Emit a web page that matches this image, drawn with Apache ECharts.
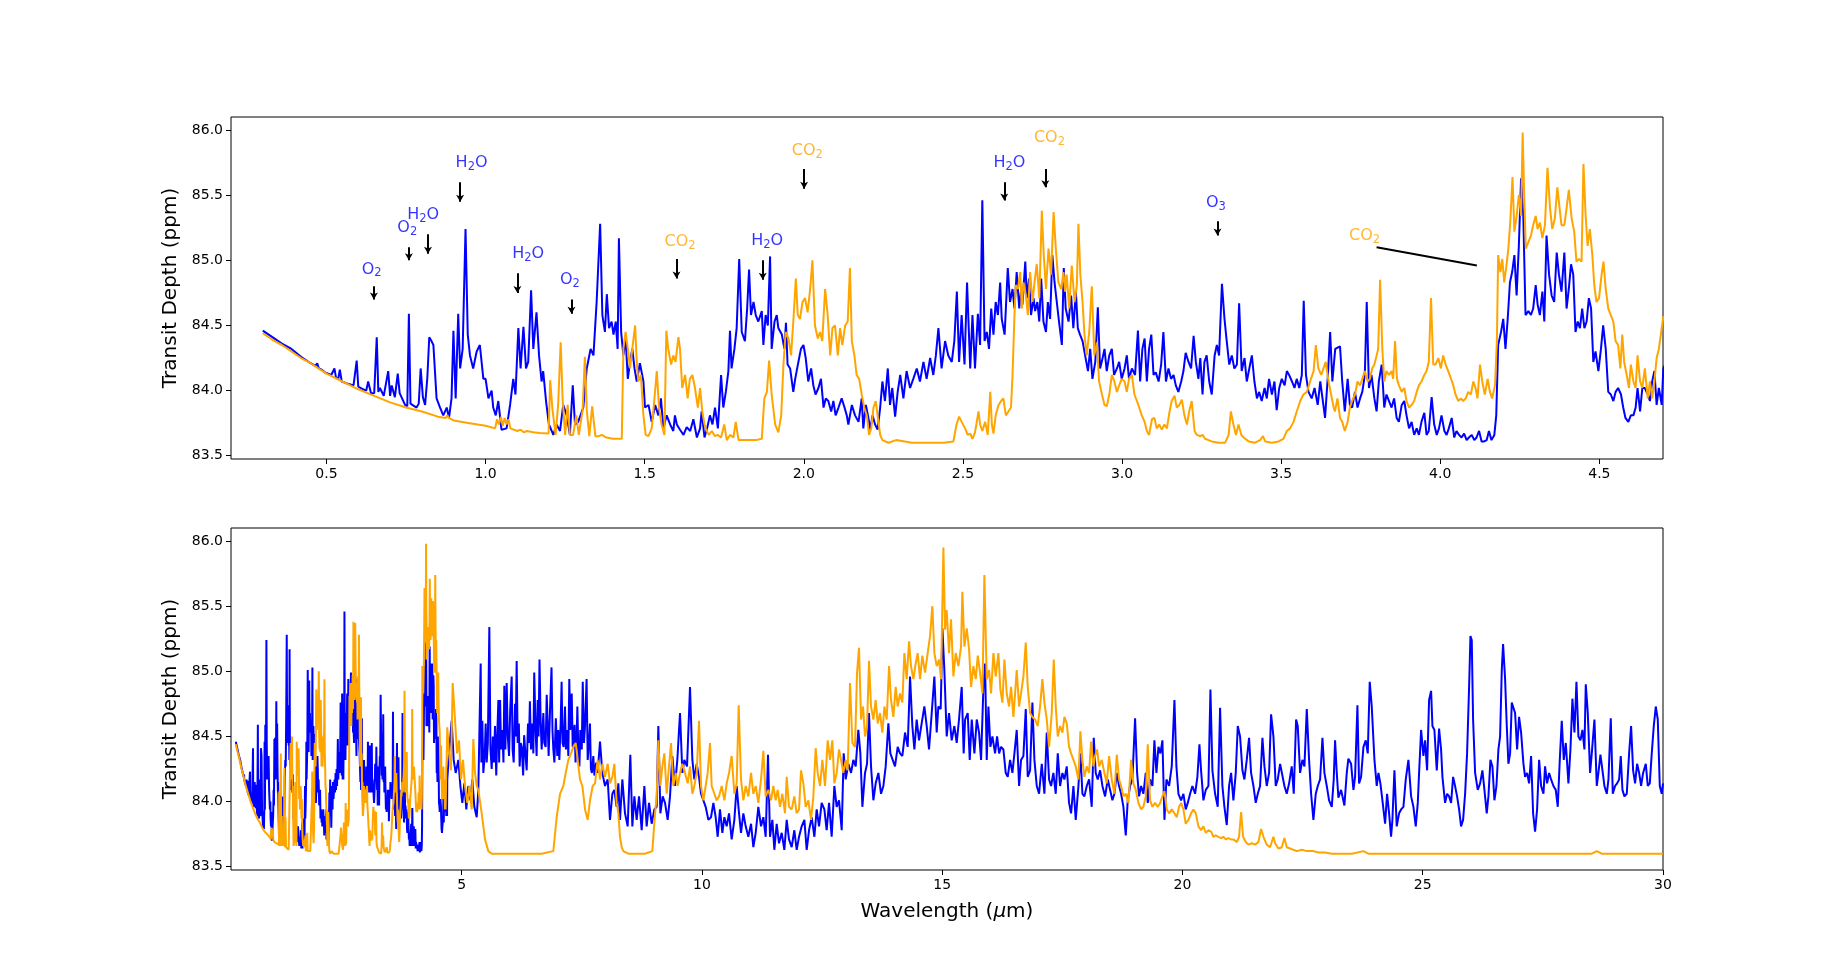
<!DOCTYPE html>
<html>
<head>
<meta charset="utf-8">
<title>Transit depth</title>
<script src="https://cdn.jsdelivr.net/npm/echarts@6.0.0/dist/echarts.min.js"></script>
<style>
html, body { margin: 0; padding: 0; background: #fff; }
#main { width: 1848px; height: 977px; }
</style>
</head>
<body>
<div id="main"></div>
<script>
// [wavelength (um), transit depth (ppm)]
var blueNearIr = [
[0.30,84.46],[0.33,84.41],[0.36,84.36],[0.39,84.32],[0.42,84.26],[0.45,84.21],[0.465,84.19],[0.471,84.21],[0.476,84.17],[0.485,84.16],[0.49,84.17],[0.495,84.14],[0.515,84.12],[0.525,84.17],[0.53,84.10],[0.537,84.09],[0.542,84.16],[0.548,84.07],[0.57,84.05],[0.585,84.04],[0.595,84.23],[0.60,84.03],[0.615,84.01],[0.625,84.00],[0.631,84.07],[0.64,83.98],[0.65,83.98],[0.658,84.41],[0.663,83.99],[0.668,84.02],[0.68,83.96],[0.694,84.15],[0.70,83.96],[0.705,84.04],[0.715,83.95],[0.724,84.13],[0.73,83.98],[0.736,83.99],[0.747,83.89],[0.754,83.88],[0.759,84.59],[0.764,83.90],[0.768,83.89],[0.783,83.87],[0.79,83.90],[0.796,84.17],[0.803,83.95],[0.81,83.89],[0.817,84.10],[0.823,84.41],[0.83,84.38],[0.836,84.35],[0.846,83.94],[0.857,83.87],[0.867,83.81],[0.878,83.87],[0.885,83.79],[0.893,83.94],[0.899,84.46],[0.906,83.94],[0.914,84.59],[0.92,84.17],[0.928,84.32],[0.937,85.24],[0.944,84.43],[0.951,84.27],[0.961,84.17],[0.972,84.30],[0.982,84.35],[0.993,84.09],[1.00,84.09],[1.009,83.94],[1.019,84.00],[1.024,83.87],[1.032,83.81],[1.04,83.92],[1.05,83.70],[1.066,83.71],[1.077,83.89],[1.087,84.09],[1.094,83.97],[1.103,84.48],[1.11,84.17],[1.119,84.49],[1.127,84.17],[1.134,84.22],[1.143,84.77],[1.15,84.32],[1.16,84.60],[1.168,84.27],[1.176,84.07],[1.181,84.15],[1.19,83.92],[1.199,83.74],[1.213,83.66],[1.223,83.74],[1.234,83.69],[1.244,83.89],[1.255,83.81],[1.265,83.66],[1.274,84.04],[1.281,83.74],[1.291,83.76],[1.307,83.87],[1.318,84.17],[1.33,84.32],[1.339,84.27],[1.349,84.68],[1.36,85.28],[1.367,84.58],[1.375,84.45],[1.381,84.74],[1.388,84.48],[1.396,84.53],[1.402,84.43],[1.409,84.53],[1.415,84.32],[1.419,85.17],[1.426,84.45],[1.433,84.27],[1.44,84.40],[1.447,84.09],[1.454,84.22],[1.461,84.32],[1.468,84.17],[1.475,84.07],[1.485,84.21],[1.496,84.07],[1.501,83.87],[1.512,83.89],[1.522,83.76],[1.533,83.89],[1.543,83.81],[1.551,83.94],[1.559,83.71],[1.569,83.81],[1.58,83.74],[1.59,83.69],[1.595,83.81],[1.601,83.74],[1.611,83.70],[1.622,83.66],[1.632,83.72],[1.643,83.69],[1.653,83.78],[1.664,83.64],[1.674,83.71],[1.679,83.84],[1.688,83.64],[1.697,83.72],[1.705,83.81],[1.713,83.74],[1.721,83.87],[1.73,83.71],[1.74,84.12],[1.747,83.87],[1.755,83.99],[1.763,84.15],[1.768,84.46],[1.773,84.17],[1.782,84.32],[1.789,84.48],[1.797,85.01],[1.805,84.45],[1.815,84.38],[1.822,84.63],[1.828,84.93],[1.834,84.58],[1.842,84.68],[1.849,84.58],[1.857,84.53],[1.868,84.61],[1.873,84.35],[1.88,84.58],[1.887,84.50],[1.894,85.03],[1.899,84.32],[1.908,84.53],[1.915,84.58],[1.92,84.48],[1.931,84.43],[1.939,84.32],[1.944,84.52],[1.949,84.20],[1.957,84.17],[1.967,83.99],[1.973,84.09],[1.983,84.22],[1.991,84.32],[1.999,84.35],[2.006,84.25],[2.014,84.07],[2.023,84.17],[2.03,84.04],[2.037,83.97],[2.046,84.02],[2.054,84.09],[2.062,83.87],[2.069,83.94],[2.077,83.92],[2.086,83.84],[2.093,83.92],[2.10,83.81],[2.109,83.87],[2.119,83.94],[2.128,83.87],[2.135,83.81],[2.14,83.74],[2.151,83.89],[2.161,83.81],[2.172,83.76],[2.182,83.94],[2.187,83.71],[2.195,83.89],[2.203,83.79],[2.209,83.70],[2.216,83.81],[2.224,83.74],[2.232,83.70],[2.24,83.87],[2.247,84.07],[2.255,83.92],[2.264,84.17],[2.271,83.89],[2.278,84.02],[2.287,83.80],[2.295,83.99],[2.303,84.12],[2.313,83.94],[2.323,84.15],[2.334,84.02],[2.344,84.09],[2.355,84.17],[2.365,84.07],[2.376,84.22],[2.386,84.09],[2.397,84.25],[2.407,84.12],[2.415,84.27],[2.423,84.48],[2.433,84.17],[2.444,84.38],[2.454,84.27],[2.465,84.22],[2.473,84.38],[2.481,84.76],[2.488,84.22],[2.496,84.58],[2.505,84.20],[2.513,84.83],[2.523,84.17],[2.53,84.58],[2.538,84.17],[2.547,84.59],[2.554,84.35],[2.561,85.46],[2.568,84.38],[2.575,84.45],[2.582,84.32],[2.589,84.63],[2.596,84.43],[2.603,84.68],[2.61,84.58],[2.617,84.83],[2.622,84.55],[2.631,84.43],[2.635,84.63],[2.641,84.94],[2.648,84.68],[2.656,84.78],[2.662,84.63],[2.669,84.91],[2.677,84.63],[2.683,84.78],[2.687,84.66],[2.696,84.99],[2.701,84.71],[2.708,84.86],[2.714,84.58],[2.722,84.71],[2.727,84.61],[2.734,84.68],[2.74,84.53],[2.746,84.86],[2.753,84.53],[2.761,84.45],[2.767,84.68],[2.774,84.55],[2.781,85.04],[2.788,84.83],[2.795,84.68],[2.802,84.53],[2.811,84.35],[2.817,84.94],[2.823,84.63],[2.832,84.53],[2.84,84.73],[2.847,84.48],[2.855,84.76],[2.861,84.48],[2.868,84.43],[2.876,84.38],[2.884,84.27],[2.893,84.15],[2.90,84.32],[2.907,84.09],[2.916,84.22],[2.924,84.64],[2.931,84.17],[2.939,84.25],[2.945,84.32],[2.952,84.15],[2.96,84.27],[2.968,84.32],[2.975,84.12],[2.984,84.17],[2.991,84.22],[2.999,84.09],[3.008,84.17],[3.015,84.27],[3.022,84.09],[3.031,84.17],[3.041,84.12],[3.05,84.46],[3.057,84.07],[3.064,84.32],[3.071,84.40],[3.078,84.07],[3.085,84.32],[3.092,84.43],[3.099,84.12],[3.106,84.14],[3.115,84.07],[3.123,84.20],[3.13,84.45],[3.138,84.07],[3.146,84.17],[3.154,84.09],[3.162,84.12],[3.169,84.04],[3.177,83.99],[3.186,84.07],[3.193,84.15],[3.20,84.29],[3.209,84.22],[3.217,84.17],[3.225,84.42],[3.232,84.22],[3.24,84.09],[3.246,84.25],[3.253,83.97],[3.259,84.22],[3.266,84.27],[3.274,84.07],[3.282,83.97],[3.291,84.27],[3.298,84.35],[3.305,84.27],[3.314,84.82],[3.322,84.55],[3.329,84.38],[3.337,84.20],[3.345,84.27],[3.353,84.17],[3.361,84.20],[3.368,84.67],[3.376,84.15],[3.385,84.25],[3.392,84.07],[3.40,84.17],[3.408,84.27],[3.416,84.07],[3.424,83.94],[3.431,83.99],[3.439,83.92],[3.448,84.02],[3.455,83.94],[3.462,84.09],[3.471,83.97],[3.479,84.07],[3.486,83.85],[3.494,84.02],[3.502,84.09],[3.511,84.04],[3.518,84.15],[3.525,84.12],[3.534,84.07],[3.542,84.02],[3.549,84.09],[3.557,84.02],[3.565,84.12],[3.571,84.69],[3.578,84.12],[3.586,83.99],[3.596,83.94],[3.605,84.02],[3.615,83.89],[3.623,84.07],[3.63,83.94],[3.638,83.79],[3.647,84.12],[3.654,84.45],[3.661,84.07],[3.67,84.32],[3.685,84.34],[3.692,84.07],[3.70,83.84],[3.709,84.09],[3.716,83.89],[3.723,83.87],[3.732,83.99],[3.74,83.87],[3.748,83.94],[3.755,83.99],[3.763,84.12],[3.769,84.68],[3.776,84.02],[3.784,84.12],[3.793,83.94],[3.80,83.84],[3.807,84.07],[3.816,84.20],[3.824,83.87],[3.831,83.97],[3.839,83.92],[3.847,83.87],[3.855,83.94],[3.863,83.79],[3.87,83.76],[3.879,83.89],[3.887,83.92],[3.894,83.81],[3.902,83.71],[3.91,83.76],[3.918,83.66],[3.926,83.71],[3.933,83.66],[3.941,83.76],[3.95,83.83],[3.957,83.66],[3.964,83.69],[3.973,83.95],[3.981,83.74],[3.989,83.66],[3.996,83.71],[4.004,83.81],[4.013,83.69],[4.02,83.66],[4.027,83.71],[4.036,83.79],[4.044,83.64],[4.051,83.69],[4.059,83.66],[4.067,83.64],[4.075,83.67],[4.083,83.62],[4.09,83.64],[4.099,83.66],[4.107,83.62],[4.114,83.64],[4.122,83.69],[4.13,83.61],[4.138,83.61],[4.146,83.62],[4.153,83.69],[4.161,83.62],[4.17,83.66],[4.176,83.81],[4.182,84.35],[4.191,84.45],[4.198,84.55],[4.205,84.32],[4.212,84.55],[4.219,84.83],[4.226,84.91],[4.233,85.04],[4.24,84.73],[4.247,85.11],[4.254,85.63],[4.261,85.34],[4.268,84.58],[4.277,84.61],[4.285,84.58],[4.292,84.63],[4.30,84.81],[4.306,84.66],[4.313,84.58],[4.321,84.76],[4.327,84.53],[4.334,85.19],[4.342,84.89],[4.35,84.73],[4.358,84.68],[4.366,85.06],[4.373,84.89],[4.381,84.76],[4.39,85.06],[4.397,84.63],[4.404,84.78],[4.411,84.97],[4.418,84.89],[4.425,84.45],[4.432,84.53],[4.439,84.48],[4.446,84.63],[4.453,84.48],[4.46,84.53],[4.467,84.71],[4.474,84.63],[4.481,84.22],[4.488,84.30],[4.497,84.15],[4.505,84.32],[4.512,84.50],[4.52,84.32],[4.528,83.99],[4.536,83.97],[4.544,83.92],[4.551,83.99],[4.559,84.02],[4.568,83.97],[4.575,83.87],[4.582,83.79],[4.591,83.76],[4.599,83.81],[4.607,83.81],[4.614,83.87],[4.62,84.02],[4.628,83.84],[4.635,84.02],[4.643,84.02],[4.652,83.97],[4.659,83.92],[4.666,84.07],[4.673,84.15],[4.68,83.89],[4.687,84.02],[4.696,83.89],[4.701,84.17]
];

var blueMidIr = [
[4.737,84.37],[4.792,84.62],[4.834,84.32],[4.876,84.22],[4.931,84.32],[4.973,84.12],[5.014,83.99],[5.056,84.14],[5.097,83.94],[5.139,84.12],[5.181,84.01],[5.222,84.17],[5.264,83.96],[5.313,83.88],[5.347,84.09],[5.37,84.55],[5.396,85.06],[5.41,84.30],[5.43,84.62],[5.451,84.22],[5.48,84.35],[5.50,84.60],[5.521,84.30],[5.545,84.45],[5.576,85.34],[5.60,84.40],[5.625,84.25],[5.65,84.50],[5.67,84.30],[5.694,84.58],[5.72,84.20],[5.74,84.50],[5.764,84.78],[5.78,84.30],[5.80,84.78],[5.82,84.40],[5.845,84.55],[5.87,84.30],[5.888,84.89],[5.91,84.40],[5.937,84.91],[5.96,84.50],[5.986,84.35],[6.01,84.70],[6.041,84.96],[6.06,84.40],[6.083,84.30],[6.11,84.75],[6.124,84.50],[6.145,85.08],[6.166,84.45],[6.19,84.60],[6.207,84.27],[6.23,84.45],[6.25,84.42],[6.28,84.20],[6.30,84.51],[6.33,84.35],[6.353,84.24],[6.38,84.60],[6.40,84.45],[6.42,84.77],[6.443,84.40],[6.47,84.60],[6.492,84.37],[6.51,84.99],[6.54,84.53],[6.56,84.35],[6.582,84.78],[6.60,84.50],[6.62,85.09],[6.645,84.60],[6.665,84.40],[6.70,84.68],[6.72,84.45],[6.748,84.42],[6.77,84.82],[6.79,84.60],[6.81,84.35],[6.839,84.70],[6.87,85.03],[6.89,84.55],[6.908,84.40],[6.93,84.30],[6.96,84.64],[6.99,84.35],[7.01,84.55],[7.033,84.32],[7.06,84.60],[7.08,84.92],[7.10,84.45],[7.123,84.42],[7.15,84.73],[7.17,84.40],[7.20,84.55],[7.22,84.35],[7.24,84.94],[7.26,84.55],[7.29,84.83],[7.311,84.42],[7.33,84.50],[7.35,84.59],[7.37,84.30],[7.39,84.45],[7.408,84.73],[7.43,84.35],[7.45,84.27],[7.47,84.55],[7.50,84.40],[7.52,84.92],[7.545,84.45],[7.567,84.58],[7.60,84.94],[7.623,84.32],[7.65,84.45],[7.67,84.60],[7.69,84.25],[7.71,84.22],[7.74,84.35],[7.762,84.20],[7.80,84.30],[7.83,84.22],[7.879,84.46],[7.928,84.22],[7.983,84.12],[8.039,84.17],[8.087,83.86],[8.136,84.06],[8.177,84.09],[8.226,83.96],[8.261,84.14],[8.295,83.86],[8.344,84.17],[8.399,83.91],[8.455,83.81],[8.51,84.36],[8.552,83.81],[8.594,84.04],[8.642,83.86],[8.691,84.04],[8.746,83.78],[8.802,84.12],[8.85,83.81],[8.899,83.99],[8.954,83.83],[9.01,83.94],[9.058,83.96],[9.093,84.58],[9.135,83.91],[9.183,84.04],[9.232,83.99],[9.287,83.86],[9.336,84.04],[9.384,84.35],[9.44,84.12],[9.488,84.32],[9.544,84.68],[9.593,84.22],[9.634,84.32],[9.69,84.27],[9.752,84.88],[9.801,84.32],[9.842,84.17],[9.891,84.29],[9.939,84.19],[9.981,84.06],[10.03,84.01],[10.078,83.96],[10.134,83.86],[10.189,83.88],[10.238,83.99],[10.286,83.88],[10.328,83.73],[10.376,83.94],[10.425,83.76],[10.467,83.88],[10.515,83.81],[10.564,83.91],[10.619,83.71],[10.675,83.86],[10.723,84.12],[10.772,83.91],[10.813,83.76],[10.862,83.91],[10.911,83.81],[10.966,83.73],[11.022,83.83],[11.07,83.65],[11.119,83.76],[11.174,83.96],[11.23,83.81],[11.278,83.88],[11.327,83.73],[11.375,84.36],[11.417,83.73],[11.466,83.86],[11.507,83.63],[11.556,83.83],[11.604,83.68],[11.66,83.76],[11.715,83.63],[11.764,83.86],[11.812,83.71],[11.868,83.65],[11.923,83.78],[11.972,83.63],[12.021,83.73],[12.076,83.81],[12.132,83.86],[12.18,83.63],[12.229,83.78],[12.284,83.88],[12.34,83.73],[12.388,83.94],[12.437,83.81],[12.492,83.99],[12.548,83.94],[12.596,83.78],[12.645,83.99],[12.70,83.73],[12.756,84.12],[12.804,83.96],[12.853,84.01],[12.909,83.78],[12.95,84.37],[12.992,84.17],[13.047,84.29],[13.103,84.22],[13.151,84.32],[13.20,84.27],[13.255,84.55],[13.297,84.37],[13.339,83.96],[13.394,84.22],[13.436,84.29],[13.477,84.68],[13.519,84.27],[13.568,84.01],[13.616,84.14],[13.672,84.22],[13.727,84.06],[13.776,84.12],[13.824,84.27],[13.88,84.60],[13.921,84.37],[13.97,84.32],[14.018,84.27],[14.074,84.42],[14.122,84.37],[14.171,84.35],[14.227,84.53],[14.282,84.42],[14.331,84.96],[14.379,84.58],[14.421,84.40],[14.469,84.63],[14.518,84.47],[14.573,84.60],[14.629,84.73],[14.678,84.58],[14.726,84.40],[14.782,84.68],[14.837,84.96],[14.886,84.53],[14.92,84.73],[14.969,84.71],[15.004,85.33],[15.045,85.01],[15.094,84.50],[15.142,84.68],[15.198,84.47],[15.253,84.58],[15.302,84.45],[15.35,84.63],[15.406,84.88],[15.447,84.37],[15.476,84.63],[15.531,84.68],[15.573,84.32],[15.615,84.63],[15.67,84.37],[15.719,84.63],[15.767,84.53],[15.809,84.32],[15.858,84.88],[15.892,85.06],[15.927,84.32],[15.962,84.73],[16.003,84.42],[16.045,84.50],[16.10,84.37],[16.142,84.50],[16.184,84.37],[16.225,84.42],[16.274,84.40],[16.322,84.22],[16.364,84.19],[16.413,84.32],[16.461,84.22],[16.503,84.37],[16.551,84.55],[16.60,84.12],[16.641,84.32],[16.69,84.35],[16.739,84.71],[16.78,84.19],[16.829,84.24],[16.877,84.76],[16.919,84.32],[16.968,84.12],[17.016,84.06],[17.072,84.29],[17.127,84.06],[17.176,84.53],[17.224,84.17],[17.266,84.12],[17.314,84.22],[17.363,84.06],[17.405,84.37],[17.453,84.12],[17.502,84.22],[17.543,84.17],[17.592,84.27],[17.64,83.99],[17.682,83.91],[17.731,84.12],[17.779,83.86],[17.835,84.12],[17.876,84.37],[17.918,84.06],[17.959,84.04],[18.008,84.12],[18.057,84.17],[18.112,83.96],[18.154,84.49],[18.195,84.22],[18.237,84.17],[18.286,84.24],[18.334,84.12],[18.39,84.04],[18.445,84.17],[18.494,84.09],[18.542,84.01],[18.584,84.06],[18.633,84.22],[18.681,84.12],[18.723,84.06],[18.771,83.96],[18.82,83.74],[18.861,84.01],[18.91,84.12],[18.958,84.17],[19.014,84.64],[19.056,84.22],[19.097,84.04],[19.139,84.12],[19.187,84.06],[19.236,84.22],[19.278,83.99],[19.326,84.17],[19.375,84.12],[19.416,84.47],[19.458,84.22],[19.50,84.42],[19.541,84.37],[19.583,84.47],[19.625,83.86],[19.666,84.17],[19.722,84.12],[19.777,84.27],[19.833,84.78],[19.874,84.27],[19.916,84.06],[19.971,84.01],[20.02,84.06],[20.068,83.94],[20.11,83.99],[20.159,84.06],[20.207,84.12],[20.263,84.06],[20.311,84.19],[20.353,84.44],[20.387,84.24],[20.436,84.01],[20.485,84.09],[20.54,84.12],[20.582,84.86],[20.623,84.24],[20.679,84.06],[20.734,83.96],[20.783,84.72],[20.831,84.12],[20.873,83.96],[20.922,83.82],[20.97,84.12],[21.012,84.22],[21.06,84.01],[21.109,84.22],[21.151,84.58],[21.199,84.50],[21.248,84.24],[21.289,84.17],[21.338,84.32],[21.386,84.49],[21.428,84.22],[21.477,84.12],[21.525,83.99],[21.567,84.06],[21.615,84.12],[21.664,84.49],[21.706,84.27],[21.754,84.12],[21.803,84.22],[21.844,84.67],[21.893,84.50],[21.941,84.12],[21.983,84.17],[22.032,84.29],[22.122,84.12],[22.17,84.06],[22.219,84.14],[22.274,84.27],[22.316,84.06],[22.365,84.63],[22.399,84.58],[22.448,84.22],[22.496,84.32],[22.538,84.27],[22.587,84.71],[22.635,84.32],[22.677,84.06],[22.725,83.86],[22.774,84.06],[22.816,84.12],[22.864,84.17],[22.913,84.49],[22.954,84.22],[23.003,84.12],[23.051,84.01],[23.107,83.96],[23.148,84.17],[23.176,84.47],[23.211,84.22],[23.245,84.03],[23.301,84.09],[23.329,84.10],[23.37,83.97],[23.419,84.22],[23.453,84.33],[23.509,84.29],[23.558,84.09],[23.592,84.19],[23.641,84.74],[23.675,84.14],[23.717,84.19],[23.766,84.42],[23.814,84.47],[23.856,84.37],[23.897,84.92],[23.939,84.73],[23.995,84.32],[24.043,84.12],[24.078,84.22],[24.119,84.14],[24.161,84.01],[24.217,83.83],[24.258,84.06],[24.30,83.91],[24.341,83.73],[24.369,83.86],[24.411,84.24],[24.459,83.81],[24.508,83.91],[24.55,83.94],[24.598,83.96],[24.647,84.17],[24.702,84.32],[24.758,84.04],[24.806,83.96],[24.855,83.81],[24.897,83.99],[24.924,84.22],[24.966,84.55],[25.014,84.35],[25.049,84.47],[25.091,84.24],[25.132,84.78],[25.174,84.85],[25.202,84.58],[25.243,84.55],[25.292,84.24],[25.34,84.56],[25.382,84.40],[25.41,84.19],[25.465,83.99],[25.507,84.06],[25.549,84.04],[25.59,83.99],[25.632,84.19],[25.673,84.12],[25.715,84.04],[25.757,83.94],[25.798,83.81],[25.84,83.86],[25.882,84.06],[25.923,84.37],[25.965,84.88],[25.993,85.27],[26.02,85.24],[26.048,84.63],[26.09,84.22],[26.145,84.09],[26.194,84.14],[26.242,84.24],[26.284,84.09],[26.332,83.91],[26.367,84.04],[26.409,84.32],[26.45,84.27],[26.492,84.01],[26.534,84.12],[26.575,84.40],[26.61,84.50],[26.645,85.01],[26.672,85.21],[26.714,84.94],[26.749,84.58],[26.783,84.29],[26.818,84.37],[26.853,84.76],[26.887,84.77],[26.922,84.68],[26.964,84.40],[27.005,84.65],[27.047,84.53],[27.096,84.29],[27.13,84.19],[27.172,84.22],[27.213,84.14],[27.255,84.35],[27.297,83.91],[27.338,83.77],[27.38,83.94],[27.422,84.32],[27.463,84.12],[27.512,84.06],[27.546,84.27],[27.588,84.14],[27.63,84.22],[27.671,84.17],[27.72,84.12],[27.768,84.09],[27.81,83.96],[27.852,84.32],[27.893,84.62],[27.935,84.32],[27.977,84.45],[28.032,84.14],[28.074,84.40],[28.115,84.79],[28.157,84.53],[28.199,84.92],[28.24,84.50],[28.282,84.47],[28.323,84.55],[28.365,84.40],[28.393,84.90],[28.435,84.68],[28.483,84.22],[28.518,84.37],[28.573,84.63],[28.622,84.12],[28.656,84.22],[28.698,84.36],[28.74,84.24],[28.781,84.12],[28.83,84.06],[28.865,84.17],[28.913,84.64],[28.955,84.06],[29.003,84.12],[29.045,84.14],[29.087,84.17],[29.121,84.35],[29.156,84.09],[29.197,84.04],[29.246,84.06],[29.295,84.37],[29.336,84.58],[29.378,84.24],[29.419,84.14],[29.461,84.29],[29.503,84.22],[29.544,84.12],[29.586,84.22],[29.642,84.29],[29.683,84.12],[29.725,84.14],[29.766,84.37],[29.808,84.58],[29.85,84.73],[29.891,84.63],[29.933,84.12],[29.974,84.06],[30.0,84.14]
];

var orangeNearIr = [
[0.30,84.44],[0.33,84.39],[0.36,84.35],[0.39,84.30],[0.42,84.25],[0.45,84.21],[0.50,84.13],[0.55,84.07],[0.60,84.01],[0.65,83.96],[0.70,83.91],[0.75,83.87],[0.80,83.84],[0.85,83.80],[0.875,83.79],[0.88,83.81],[0.885,83.79],[0.90,83.77],[0.95,83.75],[1.00,83.73],[1.03,83.71],[1.036,83.78],[1.042,83.74],[1.048,83.80],[1.054,83.73],[1.06,83.79],[1.066,83.74],[1.072,83.78],[1.078,83.71],[1.10,83.69],[1.11,83.70],[1.12,83.68],[1.13,83.69],[1.15,83.68],[1.17,83.675],[1.198,83.67],[1.203,84.08],[1.21,83.86],[1.22,83.66],[1.228,83.89],[1.236,84.37],[1.242,83.94],[1.25,83.66],[1.258,83.89],[1.265,83.66],[1.275,83.66],[1.285,83.81],[1.293,83.66],[1.305,83.85],[1.312,84.26],[1.318,83.85],[1.326,83.65],[1.335,83.88],[1.345,83.65],[1.356,83.65],[1.365,83.66],[1.38,83.64],[1.40,83.63],[1.428,83.63],[1.433,84.32],[1.44,84.45],[1.447,84.32],[1.454,84.17],[1.461,84.32],[1.47,84.50],[1.475,84.22],[1.48,84.07],[1.488,84.12],[1.496,83.81],[1.503,83.66],[1.512,83.65],[1.522,83.71],[1.53,83.92],[1.538,84.15],[1.545,83.87],[1.553,83.74],[1.562,83.66],[1.568,84.46],[1.574,84.32],[1.583,84.20],[1.59,84.27],[1.597,84.22],[1.606,84.41],[1.611,84.32],[1.618,84.02],[1.627,84.12],[1.635,83.94],[1.642,84.09],[1.65,84.12],[1.658,84.02],[1.667,83.87],[1.674,84.02],[1.681,83.84],[1.688,83.74],[1.695,83.69],[1.702,83.66],[1.711,83.69],[1.721,83.65],[1.729,83.66],[1.74,83.64],[1.75,83.74],[1.758,83.62],[1.768,83.66],[1.779,83.64],[1.786,83.76],[1.795,83.62],[1.82,83.62],[1.85,83.62],[1.868,83.63],[1.876,83.94],[1.884,83.99],[1.891,84.23],[1.899,83.97],[1.91,83.74],[1.92,83.68],[1.929,83.81],[1.936,84.20],[1.943,84.45],[1.952,84.40],[1.96,84.27],[1.967,84.53],[1.975,84.86],[1.981,84.58],[1.988,84.55],[1.996,84.68],[2.004,84.71],[2.012,84.60],[2.02,84.78],[2.027,85.00],[2.035,84.50],[2.044,84.40],[2.051,84.45],[2.058,84.38],[2.067,84.78],[2.075,84.58],[2.083,84.27],[2.09,84.48],[2.098,84.50],[2.107,84.27],[2.114,84.48],[2.121,84.35],[2.13,84.50],[2.138,84.53],[2.145,84.94],[2.151,84.38],[2.159,84.27],[2.166,84.12],[2.174,84.09],[2.182,83.97],[2.19,83.87],[2.198,83.81],[2.205,83.66],[2.212,83.71],[2.219,83.87],[2.226,83.92],[2.232,83.81],[2.24,83.66],[2.247,83.62],[2.266,83.60],[2.29,83.62],[2.34,83.60],[2.39,83.60],[2.44,83.60],[2.47,83.61],[2.48,83.74],[2.488,83.80],[2.496,83.76],[2.507,83.71],[2.515,83.66],[2.523,83.67],[2.53,83.63],[2.538,83.68],[2.549,83.84],[2.554,83.74],[2.561,83.69],[2.57,83.76],[2.578,83.66],[2.586,83.99],[2.591,83.74],[2.596,83.67],[2.603,83.81],[2.612,83.89],[2.62,83.92],[2.627,83.94],[2.635,83.81],[2.643,83.84],[2.651,83.87],[2.656,84.12],[2.662,84.58],[2.666,84.81],[2.673,84.78],[2.68,84.91],[2.685,84.63],[2.69,84.83],[2.698,84.73],[2.704,84.58],[2.711,84.91],[2.719,84.68],[2.725,84.83],[2.732,84.97],[2.74,84.71],[2.748,85.38],[2.754,85.04],[2.761,84.78],[2.769,85.09],[2.777,84.89],[2.785,85.37],[2.792,85.09],[2.80,84.83],[2.809,84.78],[2.816,84.91],[2.821,84.76],[2.826,84.89],[2.834,84.63],[2.842,84.96],[2.851,84.68],[2.858,84.81],[2.863,85.28],[2.869,84.89],[2.876,84.68],[2.882,84.43],[2.889,84.27],[2.897,84.45],[2.905,84.80],[2.913,84.27],[2.921,84.37],[2.928,84.07],[2.937,83.97],[2.945,83.89],[2.952,83.88],[2.96,83.97],[2.968,84.12],[2.976,84.07],[2.984,83.99],[2.991,84.04],[2.999,84.09],[3.008,84.07],[3.015,83.99],[3.022,84.09],[3.031,84.12],[3.039,83.97],[3.047,83.92],[3.054,83.87],[3.062,83.81],[3.071,83.76],[3.078,83.69],[3.085,83.66],[3.094,83.78],[3.102,83.79],[3.109,83.71],[3.117,83.74],[3.125,83.70],[3.133,83.74],[3.141,83.71],[3.148,83.82],[3.156,83.92],[3.165,83.96],[3.172,83.87],[3.18,83.89],[3.188,83.93],[3.196,83.81],[3.204,83.74],[3.211,83.84],[3.219,83.92],[3.228,83.69],[3.235,83.66],[3.246,83.65],[3.253,83.66],[3.261,83.63],[3.272,83.62],[3.282,83.61],[3.303,83.60],[3.324,83.60],[3.335,83.66],[3.342,83.84],[3.35,83.74],[3.358,83.66],[3.366,83.74],[3.375,83.66],[3.382,83.64],[3.398,83.61],[3.418,83.60],[3.434,83.62],[3.443,83.65],[3.45,83.61],[3.471,83.60],[3.492,83.61],[3.507,83.63],[3.518,83.69],[3.528,83.71],[3.539,83.76],[3.549,83.84],[3.56,83.92],[3.57,83.97],[3.581,83.99],[3.591,84.07],[3.602,84.15],[3.609,84.35],[3.617,84.17],[3.626,84.12],[3.633,84.17],[3.64,84.22],[3.649,84.07],[3.657,83.97],[3.665,83.87],[3.669,83.84],[3.677,83.94],[3.685,83.79],[3.692,83.76],[3.70,83.69],[3.709,83.76],[3.716,83.87],[3.723,83.92],[3.732,83.97],[3.74,84.07],[3.748,84.04],[3.755,84.09],[3.763,84.15],[3.772,84.07],[3.779,84.09],[3.786,84.17],[3.793,84.20],[3.80,84.27],[3.805,84.32],[3.811,84.85],[3.818,84.32],[3.824,84.07],[3.831,84.15],[3.839,84.12],[3.847,84.15],[3.852,84.09],[3.858,84.38],[3.864,84.09],[3.87,84.04],[3.879,83.99],[3.887,84.02],[3.894,83.92],[3.902,83.87],[3.91,83.89],[3.918,83.92],[3.926,83.99],[3.933,84.04],[3.941,84.07],[3.95,84.12],[3.957,84.15],[3.964,84.22],[3.971,84.71],[3.978,84.20],[3.985,84.20],[3.994,84.25],[4.002,84.17],[4.009,84.27],[4.017,84.20],[4.025,84.15],[4.034,84.09],[4.041,84.04],[4.048,83.97],[4.057,83.92],[4.065,83.94],[4.072,83.92],[4.08,83.94],[4.088,83.99],[4.096,83.97],[4.104,84.07],[4.111,84.02],[4.117,83.94],[4.125,84.20],[4.132,84.07],[4.14,83.97],[4.149,84.09],[4.156,83.99],[4.163,83.94],[4.172,84.04],[4.178,84.38],[4.182,85.04],[4.189,84.91],[4.195,85.01],[4.201,84.83],[4.207,84.94],[4.214,85.09],[4.22,85.29],[4.227,85.64],[4.233,85.22],[4.24,85.34],[4.247,85.50],[4.254,85.34],[4.259,85.98],[4.264,85.47],[4.269,85.09],[4.277,85.14],[4.285,85.19],[4.292,85.27],[4.30,85.34],[4.306,85.24],[4.313,85.29],[4.321,85.17],[4.329,85.27],[4.337,85.71],[4.345,85.40],[4.352,85.24],[4.36,85.32],[4.368,85.56],[4.375,85.40],[4.381,85.27],[4.39,85.27],[4.397,85.40],[4.404,85.54],[4.413,85.32],[4.421,85.22],[4.428,84.99],[4.436,85.01],[4.444,84.99],[4.45,85.74],[4.457,85.34],[4.463,85.11],[4.47,85.24],[4.478,85.04],[4.484,84.81],[4.491,84.68],[4.499,84.71],[4.507,84.89],[4.513,84.99],[4.52,84.78],[4.528,84.63],[4.536,84.58],[4.544,84.53],[4.551,84.38],[4.559,84.35],[4.566,84.17],[4.572,84.43],[4.578,84.22],[4.586,84.12],[4.593,84.02],[4.599,84.20],[4.607,84.07],[4.614,84.02],[4.62,84.27],[4.628,84.07],[4.635,84.02],[4.643,84.17],[4.652,83.94],[4.659,84.07],[4.666,83.94],[4.673,84.07],[4.68,84.25],[4.687,84.32],[4.696,84.48],[4.701,84.57]
];

var orangeMidIr = [
[4.737,84.37],[4.778,84.24],[4.813,84.91],[4.862,84.63],[4.903,84.37],[4.945,84.47],[4.987,84.17],[5.028,84.32],[5.07,84.12],[5.118,83.99],[5.16,84.12],[5.209,83.94],[5.243,84.48],[5.278,84.22],[5.313,84.12],[5.347,84.09],[5.417,83.91],[5.486,83.71],[5.555,83.62],[5.625,83.60],[5.972,83.60],[6.318,83.60],[6.665,83.60],[6.908,83.62],[6.977,83.88],[7.047,84.06],[7.116,84.12],[7.165,84.22],[7.22,84.32],[7.276,84.37],[7.324,84.42],[7.373,84.45],[7.415,84.32],[7.463,84.17],[7.512,84.12],[7.567,83.94],[7.623,83.86],[7.671,84.01],[7.727,84.12],[7.775,84.14],[7.83,84.32],[7.879,84.17],[7.928,84.29],[7.983,84.19],[8.039,84.29],[8.087,84.14],[8.136,84.19],[8.177,84.29],[8.226,83.99],[8.261,83.91],[8.295,83.73],[8.33,83.65],[8.365,83.62],[8.469,83.60],[8.816,83.60],[8.968,83.62],[9.024,83.91],[9.058,84.04],[9.093,84.47],[9.135,84.12],[9.176,84.27],[9.218,84.37],[9.267,84.06],[9.315,84.27],[9.357,84.45],[9.405,84.12],[9.454,84.22],[9.495,84.12],[9.544,84.22],[9.593,84.29],[9.648,84.22],[9.704,84.14],[9.752,84.27],[9.801,84.06],[9.842,84.12],[9.891,84.22],[9.939,84.62],[9.981,84.12],[10.03,84.01],[10.078,84.12],[10.12,84.22],[10.168,84.45],[10.203,84.12],[10.259,84.06],[10.307,84.01],[10.356,84.04],[10.411,84.12],[10.467,84.01],[10.515,84.14],[10.564,84.22],[10.619,84.35],[10.675,84.06],[10.723,84.14],[10.765,84.74],[10.813,84.17],[10.862,84.01],[10.911,84.12],[10.966,84.04],[11.022,84.22],[11.07,84.06],[11.119,84.12],[11.174,83.99],[11.23,84.17],[11.278,84.39],[11.327,84.04],[11.382,84.09],[11.438,84.01],[11.486,84.12],[11.535,84.01],[11.577,84.09],[11.625,83.96],[11.674,84.06],[11.729,83.91],[11.764,84.19],[11.812,83.96],[11.868,83.94],[11.923,84.04],[11.972,83.91],[12.021,83.94],[12.062,84.24],[12.111,84.14],[12.159,83.96],[12.215,84.01],[12.27,83.86],[12.319,84.04],[12.367,84.41],[12.409,84.22],[12.458,84.12],[12.506,84.32],[12.562,84.12],[12.617,84.47],[12.666,84.32],[12.714,84.47],[12.756,84.14],[12.804,84.22],[12.853,84.40],[12.895,84.32],[12.943,84.22],[12.992,84.32],[13.033,84.24],[13.082,84.91],[13.131,84.45],[13.186,84.42],[13.228,84.99],[13.269,85.18],[13.311,84.63],[13.353,84.73],[13.394,84.50],[13.436,84.58],[13.477,85.08],[13.519,84.73],[13.568,84.63],[13.616,84.78],[13.658,84.60],[13.706,84.68],[13.755,84.53],[13.797,84.73],[13.845,84.63],[13.894,85.04],[13.935,84.78],[13.984,84.65],[14.032,84.88],[14.074,84.73],[14.122,84.83],[14.171,84.76],[14.213,85.14],[14.261,84.94],[14.31,85.23],[14.351,85.04],[14.40,84.94],[14.448,85.06],[14.49,85.14],[14.539,84.94],[14.587,85.12],[14.643,84.99],[14.698,85.14],[14.747,85.27],[14.795,85.50],[14.837,85.14],[14.886,85.04],[14.934,85.09],[14.976,84.94],[15.025,85.95],[15.059,85.32],[15.094,85.47],[15.142,85.14],[15.184,85.40],[15.233,84.96],[15.281,85.14],[15.337,85.04],[15.392,85.19],[15.42,85.61],[15.462,85.19],[15.511,85.33],[15.559,85.17],[15.601,84.88],[15.649,85.04],[15.698,84.94],[15.74,85.12],[15.788,84.99],[15.837,84.83],[15.878,85.74],[15.927,84.94],[15.975,85.01],[16.017,84.83],[16.066,85.14],[16.114,84.96],[16.17,85.14],[16.211,84.86],[16.253,84.76],[16.295,85.09],[16.343,84.83],[16.392,84.73],[16.433,84.88],[16.482,84.65],[16.517,84.83],[16.551,85.01],[16.60,84.73],[16.641,84.83],[16.69,84.96],[16.739,85.22],[16.78,84.88],[16.829,84.68],[16.877,84.65],[16.933,84.63],[16.988,84.58],[17.037,84.73],[17.085,84.94],[17.127,84.76],[17.176,84.63],[17.224,84.42],[17.28,84.68],[17.321,85.09],[17.363,84.73],[17.405,84.50],[17.453,84.58],[17.502,84.53],[17.543,84.65],[17.592,84.60],[17.64,84.42],[17.682,84.37],[17.731,84.32],[17.779,84.27],[17.835,84.17],[17.876,84.54],[17.918,84.32],[17.959,84.19],[18.008,84.27],[18.057,84.22],[18.098,84.46],[18.147,84.27],[18.181,84.35],[18.223,84.40],[18.265,84.27],[18.32,84.32],[18.376,84.22],[18.424,84.14],[18.473,84.35],[18.528,84.17],[18.584,84.06],[18.633,84.36],[18.681,84.17],[18.723,84.12],[18.771,84.04],[18.82,84.06],[18.875,83.99],[18.931,84.32],[18.979,84.14],[19.028,84.09],[19.083,83.99],[19.139,83.94],[19.187,83.96],[19.236,84.04],[19.278,84.44],[19.326,84.01],[19.375,83.96],[19.43,83.99],[19.486,83.96],[19.534,83.99],[19.583,84.04],[19.625,84.08],[19.673,83.94],[19.722,83.91],[19.777,83.94],[19.833,83.91],[19.881,83.88],[19.93,83.96],[19.971,83.99],[20.02,83.94],[20.068,83.83],[20.124,83.86],[20.179,83.91],[20.228,83.94],[20.277,83.91],[20.332,83.81],[20.387,83.78],[20.436,83.81],[20.485,83.76],[20.54,83.78],[20.596,83.77],[20.644,83.73],[20.693,83.74],[20.748,83.73],[20.804,83.72],[20.852,83.73],[20.901,83.71],[20.956,83.72],[21.012,83.71],[21.06,83.71],[21.13,83.69],[21.178,83.73],[21.22,83.92],[21.262,83.73],[21.317,83.69],[21.372,83.67],[21.442,83.68],[21.511,83.67],[21.581,83.69],[21.636,83.79],[21.685,83.73],[21.754,83.67],[21.823,83.65],[21.893,83.73],[21.928,83.68],[21.997,83.64],[22.066,83.65],[22.122,83.72],[22.17,83.65],[22.24,83.64],[22.309,83.63],[22.379,83.62],[22.483,83.63],[22.587,83.62],[22.725,83.62],[22.829,83.61],[22.968,83.61],[23.107,83.60],[23.523,83.60],[23.766,83.62],[23.87,83.60],[24.563,83.60],[25.951,83.60],[27.338,83.60],[28.518,83.60],[28.622,83.62],[28.726,83.60],[30.0,83.60]
];

var topTicks = [0.5, 1.0, 1.5, 2.0, 2.5, 3.0, 3.5, 4.0, 4.5];
var bottomTicks = [5, 10, 15, 20, 25, 30];
var depthTicks = [83.5, 84.0, 84.5, 85.0, 85.5, 86.0];

// molecule labels (centre of text) and their pointer arrows, in data units
var annotText = ['O2', 'O2', 'H2O', 'H2O', 'H2O', 'O2', 'CO2', 'H2O', 'CO2', 'H2O', 'CO2', 'O3', 'CO2'];
var annotX = [0.642, 0.754, 0.804, 0.956, 1.134, 1.265, 1.611, 1.885, 2.011, 2.646, 2.772, 3.295, 3.762];
var annotY = [84.93, 85.25, 85.35, 85.75, 85.05, 84.85, 85.14, 85.15, 85.84, 85.75, 85.94, 85.44, 85.19];
var arrowX = [0.649, 0.759, 0.819, 0.92, 1.10, 1.27, 1.60, 1.871, 2.001, 2.63, 2.759, 3.30];
var arrowFrom = [84.80, 85.10, 85.20, 85.60, 84.90, 84.70, 85.01, 85.00, 85.70, 85.60, 85.70, 85.30];
var arrowTo = [84.70, 85.00, 85.05, 85.45, 84.75, 84.59, 84.86, 84.85, 85.55, 85.46, 85.56, 85.19];
var co2Pointer = [[3.80, 85.10], [4.115, 84.96]];

var BLUE = '#0000ff';
var ORANGE = '#ffa500';
var FONT = 'DejaVu Sans';

var blueAll = blueNearIr.concat(blueMidIr);
var orangeAll = orangeNearIr.concat(orangeMidIr);

function wlAxis(idx, min, max, ticks, digits) {
	return {
		type: 'value',
		gridIndex: idx,
		min: min,
		max: max,
		axisLine: {show: false},
		splitLine: {show: false},
		axisTick: {show: true, customValues: ticks, length: 5, lineStyle: {color: '#000', width: 1}},
		axisLabel: {
			customValues: ticks, margin: 8, color: '#000', fontSize: 14, fontFamily: FONT,
			formatter: function (v) { return v.toFixed(digits); }
		}
	};
}

function depthAxis(idx) {
	return {
		type: 'value',
		gridIndex: idx,
		min: 83.475,
		max: 86.1,
		name: 'Transit Depth (ppm)',
		nameLocation: 'middle',
		nameGap: 41,
		nameTextStyle: {color: '#000', fontSize: 20, fontFamily: FONT},
		axisLine: {show: false},
		splitLine: {show: false},
		axisTick: {show: true, customValues: depthTicks, length: 5, lineStyle: {color: '#000', width: 1}},
		axisLabel: {
			customValues: depthTicks, margin: 8, color: '#000', fontSize: 14, fontFamily: FONT,
			formatter: function (v) { return v.toFixed(1); }
		}
	};
}

function spectrum(data, color, idx) {
	return {
		type: 'line',
		xAxisIndex: idx,
		yAxisIndex: idx,
		data: data,
		showSymbol: false,
		symbol: 'none',
		silent: true,
		lineStyle: {color: color, width: 2},
		itemStyle: {color: color},
		z: color === ORANGE ? 3 : 2
	};
}

var labelPoints = annotText.map(function (t, i) {
	return {
		value: [annotX[i], annotY[i]],
		name: t,
		label: {color: t === 'CO2' ? ORANGE : BLUE}
	};
});

var pointerLines = arrowX.map(function (x, i) {
	return [
		{coord: [x, arrowFrom[i]], symbol: 'none'},
		{coord: [x, arrowTo[i]], symbol: 'arrow', symbolSize: [6, 7]}
	];
});
pointerLines.push([
	{coord: co2Pointer[0], symbol: 'none'},
	{coord: co2Pointer[1], symbol: 'none'}
]);

var option = {
	backgroundColor: '#fff',
	animation: false,
	grid: [
		{left: 231, top: 117, width: 1432, height: 342, show: true, borderColor: '#000', borderWidth: 1, backgroundColor: 'transparent'},
		{left: 231, top: 528, width: 1432, height: 342, show: true, borderColor: '#000', borderWidth: 1, backgroundColor: 'transparent'}
	],
	xAxis: [
		wlAxis(0, 0.2, 4.7, topTicks, 1),
		Object.assign(wlAxis(1, 0.2, 30, bottomTicks, 0), {
			name: 'Wavelength ({i|μ}m)',
			nameLocation: 'middle',
			nameGap: 32,
			nameTextStyle: {
				color: '#000', fontSize: 20, fontFamily: FONT,
				rich: {i: {fontStyle: 'italic', fontSize: 20, fontFamily: FONT, color: '#000'}}
			}
		})
	],
	yAxis: [depthAxis(0), depthAxis(1)],
	series: [
		spectrum(blueAll, BLUE, 0),
		spectrum(orangeAll, ORANGE, 0),
		spectrum(blueAll, BLUE, 1),
		spectrum(orangeAll, ORANGE, 1),
		{
			type: 'scatter',
			xAxisIndex: 0,
			yAxisIndex: 0,
			silent: true,
			symbolSize: 0,
			z: 5,
			data: labelPoints,
			label: {
				show: true,
				position: 'inside',
				fontSize: 16,
				lineHeight: 20,
				fontFamily: FONT,
				// digits become subscripts, as in H2O
				formatter: function (p) { return p.name.replace(/(\d)/g, '{s|$1}'); },
				rich: {
					s: {fontSize: 11.5, lineHeight: 11, verticalAlign: 'bottom', fontFamily: FONT}
				}
			},
			markLine: {
				silent: true,
				animation: false,
				symbol: 'none',
				label: {show: false},
				lineStyle: {color: '#000', width: 2, type: 'solid'},
				emphasis: {disabled: true},
				data: pointerLines
			}
		}
	]
};

var chart = echarts.init(document.getElementById('main'));
chart.setOption(option);
</script>
</body>
</html>
